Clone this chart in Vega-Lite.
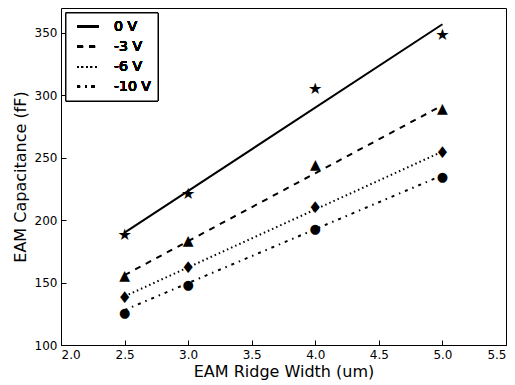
{
  "$schema": "https://vega.github.io/schema/vega-lite/v6.json",
  "width": 445,
  "height": 337,
  "padding": {"left": 61, "top": 8, "right": 9, "bottom": 40},
  "autosize": {"type": "none"},
  "config": {
    "view": {"stroke": "black", "strokeWidth": 1},
    "axis": {
      "grid": false,
      "domain": false,
      "tickColor": "black",
      "tickSize": -5,
      "labelFont": "DejaVu Sans",
      "labelFontSize": 12,
      "labelColor": "black",
      "titleFont": "DejaVu Sans",
      "titleFontSize": 16,
      "titleFontWeight": "normal",
      "titleColor": "black"
    }
  },
  "data": {
    "values": [
      {"series": "0 V", "kind": "pt", "w": 2.5, "c": 188},
      {"series": "0 V", "kind": "pt", "w": 3.0, "c": 221},
      {"series": "0 V", "kind": "pt", "w": 4.0, "c": 305},
      {"series": "0 V", "kind": "pt", "w": 5.0, "c": 348},
      {"series": "-3 V", "kind": "pt", "w": 2.5, "c": 155},
      {"series": "-3 V", "kind": "pt", "w": 3.0, "c": 183},
      {"series": "-3 V", "kind": "pt", "w": 4.0, "c": 244},
      {"series": "-3 V", "kind": "pt", "w": 5.0, "c": 289},
      {"series": "-6 V", "kind": "pt", "w": 2.5, "c": 138},
      {"series": "-6 V", "kind": "pt", "w": 3.0, "c": 162},
      {"series": "-6 V", "kind": "pt", "w": 4.0, "c": 210},
      {"series": "-6 V", "kind": "pt", "w": 5.0, "c": 254},
      {"series": "-10 V", "kind": "pt", "w": 2.5, "c": 126},
      {"series": "-10 V", "kind": "pt", "w": 3.0, "c": 148},
      {"series": "-10 V", "kind": "pt", "w": 4.0, "c": 193},
      {"series": "-10 V", "kind": "pt", "w": 5.0, "c": 235},
      {"series": "0 V", "kind": "fit", "w": 2.5, "c": 190},
      {"series": "0 V", "kind": "fit", "w": 5.0, "c": 357},
      {"series": "-3 V", "kind": "fit", "w": 2.5, "c": 156},
      {"series": "-3 V", "kind": "fit", "w": 5.0, "c": 292},
      {"series": "-6 V", "kind": "fit", "w": 2.5, "c": 139},
      {"series": "-6 V", "kind": "fit", "w": 5.0, "c": 255},
      {"series": "-10 V", "kind": "fit", "w": 2.5, "c": 128},
      {"series": "-10 V", "kind": "fit", "w": 5.0, "c": 236}
    ]
  },
  "layer": [
    {
      "transform": [{"filter": {"and": [{"field": "series", "equal": "0 V"}, {"field": "kind", "equal": "fit"}]}}],
      "mark": {"type": "line", "color": "black", "strokeWidth": 2},
      "encoding": {
        "x": {"field": "w", "type": "quantitative", "scale": {"domain": [2.0, 5.5], "nice": false, "zero": false},
              "axis": {"title": "EAM Ridge Width (um)", "values": [2.0, 2.5, 3.0, 3.5, 4.0, 4.5, 5.0, 5.5], "format": ".1f", "labelPadding": 9, "titlePadding": 3}},
        "y": {"field": "c", "type": "quantitative", "scale": {"domain": [100, 370], "nice": false, "zero": false},
              "axis": {"title": "EAM Capacitance (fF)", "values": [100, 150, 200, 250, 300, 350], "labelPadding": 9, "titlePadding": 6}}
      }
    },
    {
      "transform": [{"filter": {"and": [{"field": "series", "equal": "-3 V"}, {"field": "kind", "equal": "fit"}]}}],
      "mark": {"type": "line", "color": "black", "strokeWidth": 2, "strokeDash": [6, 6]},
      "encoding": {"x": {"field": "w", "type": "quantitative"}, "y": {"field": "c", "type": "quantitative"}}
    },
    {
      "transform": [{"filter": {"and": [{"field": "series", "equal": "-6 V"}, {"field": "kind", "equal": "fit"}]}}],
      "mark": {"type": "line", "color": "black", "strokeWidth": 2, "strokeDash": [1.5, 3]},
      "encoding": {"x": {"field": "w", "type": "quantitative"}, "y": {"field": "c", "type": "quantitative"}}
    },
    {
      "transform": [{"filter": {"and": [{"field": "series", "equal": "-10 V"}, {"field": "kind", "equal": "fit"}]}}],
      "mark": {"type": "line", "color": "black", "strokeWidth": 2, "strokeDash": [3, 5, 1.5, 5]},
      "encoding": {"x": {"field": "w", "type": "quantitative"}, "y": {"field": "c", "type": "quantitative"}}
    },
    {
      "transform": [{"filter": {"and": [{"field": "series", "equal": "0 V"}, {"field": "kind", "equal": "pt"}]}}],
      "mark": {"type": "text", "text": "★", "font": "DejaVu Sans", "fontSize": 16, "align": "center", "baseline": "middle", "color": "black"},
      "encoding": {"x": {"field": "w", "type": "quantitative"}, "y": {"field": "c", "type": "quantitative"}}
    },
    {
      "transform": [{"filter": {"and": [{"field": "series", "equal": "-3 V"}, {"field": "kind", "equal": "pt"}]}}],
      "mark": {"type": "text", "text": "▲", "font": "DejaVu Sans", "fontSize": 14, "align": "center", "baseline": "middle", "color": "black"},
      "encoding": {"x": {"field": "w", "type": "quantitative"}, "y": {"field": "c", "type": "quantitative"}}
    },
    {
      "transform": [{"filter": {"and": [{"field": "series", "equal": "-6 V"}, {"field": "kind", "equal": "pt"}]}}],
      "mark": {"type": "text", "text": "♦", "font": "DejaVu Sans", "fontSize": 16, "align": "center", "baseline": "middle", "color": "black"},
      "encoding": {"x": {"field": "w", "type": "quantitative"}, "y": {"field": "c", "type": "quantitative"}}
    },
    {
      "transform": [{"filter": {"and": [{"field": "series", "equal": "-10 V"}, {"field": "kind", "equal": "pt"}]}}],
      "mark": {"type": "text", "text": "●", "font": "DejaVu Sans", "fontSize": 13, "align": "center", "baseline": "middle", "color": "black"},
      "encoding": {"x": {"field": "w", "type": "quantitative"}, "y": {"field": "c", "type": "quantitative"}}
    },
    {
      "mark": {"type": "rect", "fill": "white", "stroke": "black", "strokeWidth": 1},
      "encoding": {
        "x": {"datum": 2.039, "type": "quantitative"},
        "x2": {"datum": 2.763},
        "y": {"datum": 366.0, "type": "quantitative"},
        "y2": {"datum": 295.5}
      }
    },
    {
      "mark": {"type": "rule", "color": "black", "strokeWidth": 2},
      "encoding": {"x": {"datum": 2.126, "type": "quantitative"}, "x2": {"datum": 2.299}, "y": {"datum": 355.0, "type": "quantitative"}}
    },
    {
      "mark": {"type": "rule", "color": "black", "strokeWidth": 2, "strokeDash": [6, 6]},
      "encoding": {"x": {"datum": 2.126, "type": "quantitative"}, "x2": {"datum": 2.299}, "y": {"datum": 339.0, "type": "quantitative"}}
    },
    {
      "mark": {"type": "rule", "color": "black", "strokeWidth": 2, "strokeDash": [1.5, 3]},
      "encoding": {"x": {"datum": 2.126, "type": "quantitative"}, "x2": {"datum": 2.299}, "y": {"datum": 322.8, "type": "quantitative"}}
    },
    {
      "mark": {"type": "rule", "color": "black", "strokeWidth": 2, "strokeDash": [3, 5, 1.5, 5]},
      "encoding": {"x": {"datum": 2.126, "type": "quantitative"}, "x2": {"datum": 2.299}, "y": {"datum": 307.0, "type": "quantitative"}}
    },
    {
      "mark": {"type": "text", "text": "0 V", "font": "DejaVu Sans", "align": "left", "baseline": "middle", "fontSize": 14, "color": "black"},
      "encoding": {"x": {"datum": 2.417, "type": "quantitative"}, "y": {"datum": 355.0, "type": "quantitative"}}
    },
    {
      "mark": {"type": "text", "text": "-3 V", "font": "DejaVu Sans", "align": "left", "baseline": "middle", "fontSize": 14, "color": "black"},
      "encoding": {"x": {"datum": 2.417, "type": "quantitative"}, "y": {"datum": 339.0, "type": "quantitative"}}
    },
    {
      "mark": {"type": "text", "text": "-6 V", "font": "DejaVu Sans", "align": "left", "baseline": "middle", "fontSize": 14, "color": "black"},
      "encoding": {"x": {"datum": 2.417, "type": "quantitative"}, "y": {"datum": 322.8, "type": "quantitative"}}
    },
    {
      "mark": {"type": "text", "text": "-10 V", "font": "DejaVu Sans", "align": "left", "baseline": "middle", "fontSize": 14, "color": "black"},
      "encoding": {"x": {"datum": 2.417, "type": "quantitative"}, "y": {"datum": 307.0, "type": "quantitative"}}
    }
  ]
}
